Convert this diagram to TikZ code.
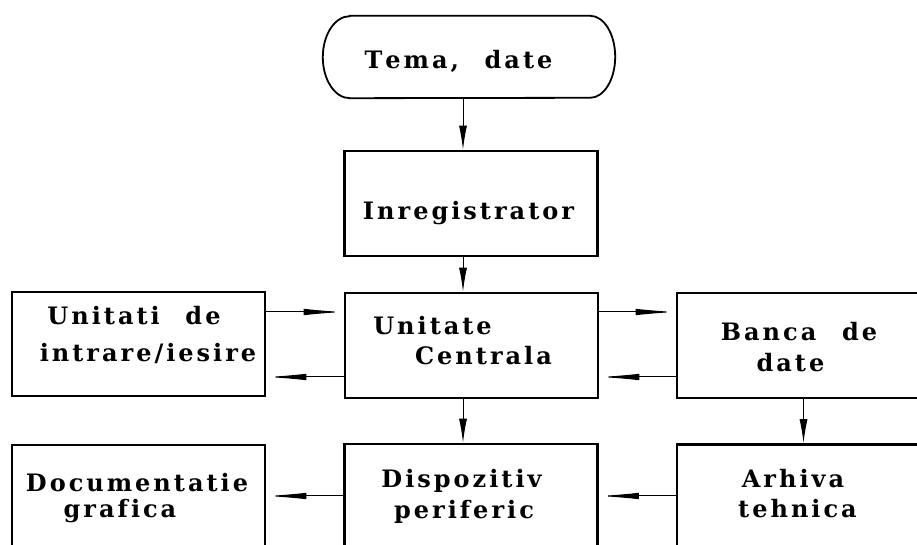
\documentclass[tikz,border=0pt]{standalone}
\usepackage{fontspec}
\newfontfamily\lblfont{DejaVuSerif}[Extension=.ttf, UprightFont=*, BoldFont=*-Bold]
\usetikzlibrary{arrows.meta}
% letter-spaced text: a fixed kern after every character
\newdimen\lblkern \lblkern=3pt
\makeatletter
\def\lbl@each#1{\ifx#1\relax\unkern\else#1\kern\lblkern\expandafter\lbl@each\fi}
\newcommand\spaced[1]{\lbl@each#1\relax}
\makeatother
\tikzset{
  box/.style={draw, line width=2.6pt, minimum width=253pt, minimum height=105pt, inner sep=0pt},
  lbl/.style={font=\lblfont\bfseries\fontsize{24}{28}\selectfont, inner sep=0pt, anchor=base},
  link/.style={line width=1pt},
  harrow/.style={link, -{Latex[length=40pt,width=6.5pt]}},
  varrow/.style={link, -{Latex[length=24pt,width=8pt]}},
}
\begin{document}
\begin{tikzpicture}[x=1pt,y=1pt]
\fill[white] (0,0) rectangle (917,545);
\clip (0,0) rectangle (917,545);

% start terminal with elliptical ends
\node[minimum width=292pt, minimum height=82pt, inner sep=0pt] (tema) at (469,488) {};
\draw[line width=1.8pt] ([xshift=27pt]tema.north west) -- ([xshift=-25pt]tema.north east)
  arc[start angle=90, end angle=-90, x radius=25pt, y radius=41pt]
  -- ([xshift=27pt]tema.south west)
  arc[start angle=270, end angle=90, x radius=27pt, y radius=41pt] -- cycle;

% process boxes
\node[box] (inreg) at (471,341.5) {};
\node[box] (cu) at (471.5,199.5) {};
\node[box, minimum height=104pt] (uio) at (138.5,201) {};
\node[box] (banca) at (803.5,199.5) {};
\node[box] (doc) at (138.5,47.5) {};
\node[box] (disp) at (471,48.5) {};
\node[box] (arh) at (803.5,48) {};

% labels
\node[lbl] (t-tema) at (458.5,476) {\spaced{Tema,~~date}};
\node[lbl] (t-inreg) at (468.5,325) {\spaced{Inregistrator}};
\node[lbl] (t-uio1) at (134,220) {\spaced{Unitati~~de}};
\node[lbl] (t-uio2) at (148,183) {\spaced{intrare/iesire}};
\node[lbl] (t-cu1) at (432.5,210) {\spaced{Unitate}};
\node[lbl] (t-cu2) at (483.5,180) {\spaced{Centrala}};
\node[lbl] (t-banca1) at (799,204) {\spaced{Banca~~de}};
\node[lbl] (t-banca2) at (790.5,173) {\spaced{date}};
\node[lbl] (t-doc1) at (137,53) {\spaced{Documentatie}};
\node[lbl] (t-doc2) at (120,27) {\spaced{grafica}};
\node[lbl] (t-disp1) at (461.5,57) {\spaced{Dispozitiv}};
\node[lbl] (t-disp2) at (464,26) {\spaced{periferic}};
\node[lbl] (t-arh1) at (793,57) {\spaced{Arhiva}};
\node[lbl] (t-arh2) at (797.5,27) {\spaced{tehnica}};

% connector rows and column
\coordinate (col) at (463,0);
\coordinate (rowhi) at (0,233);
\coordinate (rowlo) at (0,168);
\coordinate (rowbot) at (0,49);

% vertical flow
\draw[varrow] (tema.south -| col) -- (inreg.north -| col);
\draw[varrow] (inreg.south -| col) -- (cu.north -| col);
\draw[varrow] (cu.south -| col) -- (disp.north -| col);
\draw[varrow] (banca.south) -- (arh.north);

% exchanges with the central unit
\draw[harrow] (uio.east |- rowhi) -- (cu.west |- rowhi);
\draw[harrow] (cu.west |- rowlo) -- (uio.east |- rowlo);
\draw[harrow] (cu.east |- rowhi) -- (banca.west |- rowhi);
\draw[harrow] (banca.west |- rowlo) -- (cu.east |- rowlo);

% output chain
\draw[harrow] (arh.west |- rowbot) -- (disp.east |- rowbot);
\draw[harrow] (disp.west |- rowbot) -- (doc.east |- rowbot);
\end{tikzpicture}
\end{document}
